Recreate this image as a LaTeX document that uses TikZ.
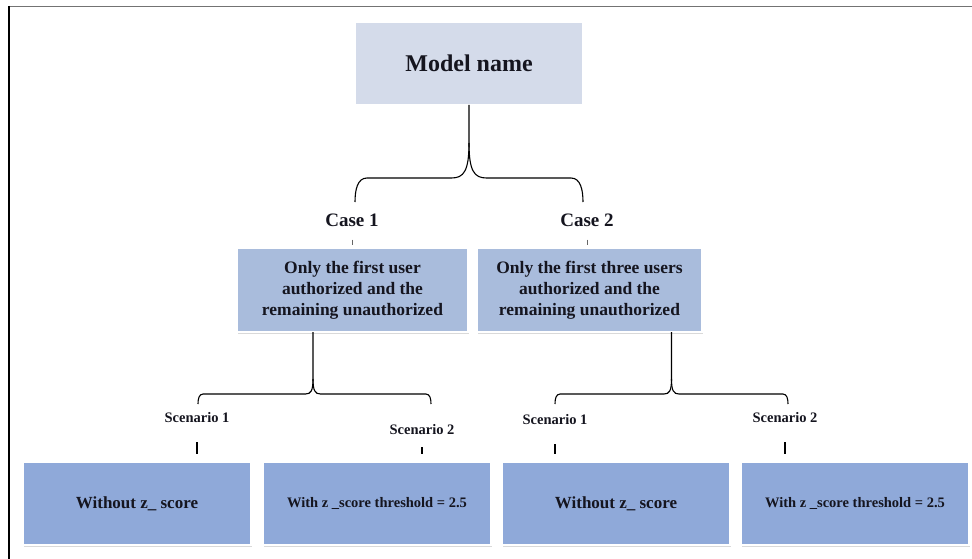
\documentclass[tikz,border=0pt]{standalone}
\usepackage{fontspec}
\setmainfont{Liberation Serif}
\usetikzlibrary{positioning,shadows,calc}
\definecolor{topblue}{HTML}{D4DBEA}
\definecolor{caseblue}{HTML}{A9BCDC}
\definecolor{leafblue}{HTML}{8FA9D9}
\definecolor{ink}{HTML}{15151F}
\tikzset{
  box/.style={fill=#1, draw=white, line width=1.2pt, align=center, inner sep=2pt, outer sep=0pt,
              text=ink, font=\bfseries, drop shadow={shadow xshift=1pt, shadow yshift=-1.5pt, opacity=0.3}},
  box/.default=topblue,
  casebox/.style={box=caseblue, minimum height=84pt,
                  font=\fontsize{17.5}{21}\selectfont\bfseries},
  leaf/.style={box=leafblue, minimum width=228pt, minimum height=83pt},
  ctitle/.style={inner sep=0pt, text=ink, font=\fontsize{19}{23}\selectfont\bfseries},
  stitle/.style={inner sep=0pt, text=ink, font=\fontsize{14.5}{17}\selectfont\bfseries},
  brace/.style={draw=black, line width=1.1pt},
  tick/.style={draw=black!60, line width=0.6pt},
  stick/.style={draw=black, line width=1.2pt, shorten <=19pt, shorten >=8pt},
  frame/.style={line width=1.4pt},
}
% #1 top point, #2 left end, #3 right end, #4 rise of the bar, #5 cusp size
\newcommand{\splitbrace}[5]{%
  \coordinate (bar) at (#1 |- #2);
  \coordinate (bar) at ([yshift=#4]bar);
  \coordinate (barL) at (bar -| #2);
  \coordinate (barR) at (bar -| #3);
  \draw[brace] (#1) -- ([yshift=#5]bar)
    .. controls ([yshift=0.2*#5]bar) and ([xshift=-0.15*#5]bar) .. ([xshift=-0.5*#5]bar)
    -- ([xshift=0.5*#4]barL)
    .. controls ([xshift=0.1*#4]barL) and ([yshift=0.5*#4]#2) .. (#2);
  \draw[brace] ([yshift=#5]bar)
    .. controls ([yshift=0.2*#5]bar) and ([xshift=0.15*#5]bar) .. ([xshift=0.5*#5]bar)
    -- ([xshift=-0.5*#4]barR)
    .. controls ([xshift=-0.1*#4]barR) and ([yshift=0.5*#4]#3) .. (#3);
}

\begin{document}
\begin{tikzpicture}[x=1pt, y=-1pt]
  \useasboundingbox (0,0) rectangle (972,559);
  % frame
  \draw[frame, black!55] (9,6.5) -- (972,6.5);
  \draw[frame, black] (9,6) -- (9,559);

  % model
  \node[box, minimum width=228pt, minimum height=83pt, font=\fontsize{24}{29}\selectfont\bfseries]
    (M) at (469,63.5) {Model name};

  % cases
  \node[ctitle] (K1) at (352,220) {Case 1};
  \node[ctitle] (K2) at (587,220) {Case 2};
  \node[casebox, minimum width=231pt] (C1) at (352.5,290)
    {Only the first user\\authorized and the\\remaining unauthorized};
  \node[casebox, minimum width=225pt, right=9pt of C1] (C2)
    {Only the first three users\\authorized and the\\remaining unauthorized};

  % scenarios
  \node[stitle] (S11) at (197,418) {Scenario 1};
  \node[stitle] (S12) at (422,430) {Scenario 2};
  \node[stitle] (S21) at (555,420) {Scenario 1};
  \node[stitle] (S22) at (785,418) {Scenario 2};
  \node[leaf, font=\fontsize{17}{20}\selectfont\bfseries] (W1) at (137,503.5) {Without z\_ score};
  \node[leaf, font=\fontsize{14.5}{17}\selectfont\bfseries, right=12pt of W1] (W2) {With z \_score threshold = 2.5};
  \node[leaf, font=\fontsize{17}{20}\selectfont\bfseries, right=11pt of W2] (W3) {Without z\_ score};
  \node[leaf, font=\fontsize{14.5}{17}\selectfont\bfseries, right=11pt of W3] (W4) {With z \_score threshold = 2.5};

  % braces
  \coordinate (e1L) at (355,202);
  \coordinate (e1R) at (583,202);
  \splitbrace{M.south}{e1L}{e1R}{24pt}{35pt}
  \coordinate (t2) at ([xshift=-39.5pt]C1.south);
  \coordinate (e2L) at (198,404);
  \coordinate (e2R) at (431,404);
  \splitbrace{t2}{e2L}{e2R}{10pt}{15pt}
  \coordinate (t3) at ([xshift=82pt]C2.south);
  \coordinate (e3L) at (555,404);
  \coordinate (e3R) at (788,404);
  \splitbrace{t3}{e3L}{e3R}{10pt}{15pt}

  % ticks
  \draw[tick, shorten <=13pt, shorten >=3pt] (K1.south) -- (K1.south |- C1.north);
  \draw[tick, shorten <=13pt, shorten >=3pt] (K2.south) -- (K2.south |- C2.north);
  \draw[stick] (S11.south) -- (S11.south |- W1.north);
  \draw[stick, shorten <=12pt] (S12.south) -- (S12.south |- W2.north);
  \draw[stick] (S21.south) -- (S21.south |- W3.north);
  \draw[stick] (S22.south) -- (S22.south |- W4.north);
\end{tikzpicture}
\end{document}
